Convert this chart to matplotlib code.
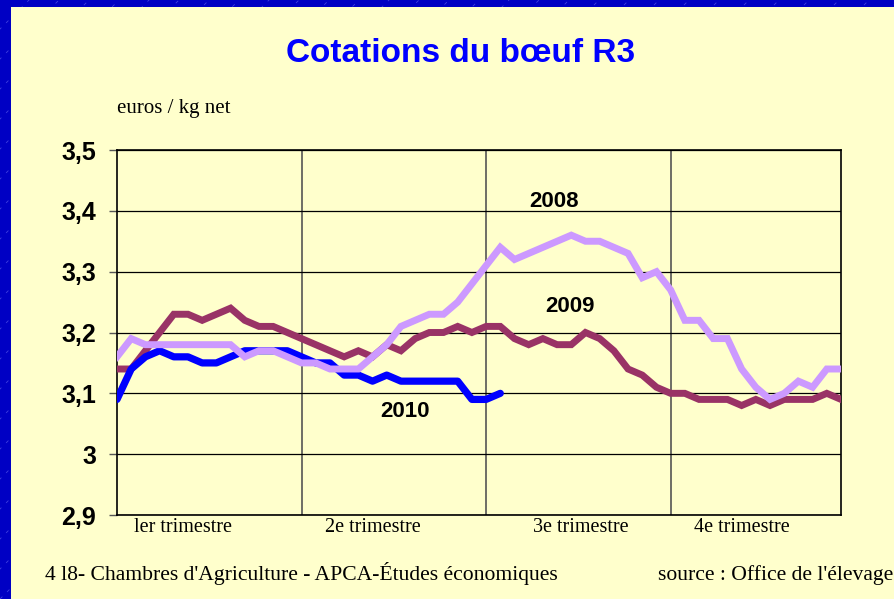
import matplotlib
matplotlib.use("Agg")
import matplotlib.pyplot as plt
from matplotlib.patches import Rectangle
from matplotlib.lines import Line2D
import numpy as np

# ---- data ----
weeks = list(range(1, 53))
y2008 = [3.16, 3.19, 3.18, 3.18, 3.18, 3.18, 3.18, 3.18, 3.18, 3.16,
         3.17, 3.17, 3.16, 3.15, 3.15, 3.14, 3.14, 3.14, 3.16, 3.18,
         3.21, 3.22, 3.23, 3.23, 3.25, 3.28, 3.31, 3.34, 3.32, 3.33,
         3.34, 3.35, 3.36, 3.35, 3.35, 3.34, 3.33, 3.29, 3.30, 3.27,
         3.22, 3.22, 3.19, 3.19, 3.14, 3.11, 3.09, 3.10, 3.12, 3.11,
         3.14, 3.14]
y2009 = [3.14, 3.14, 3.17, 3.20, 3.23, 3.23, 3.22, 3.23, 3.24, 3.22,
         3.21, 3.21, 3.20, 3.19, 3.18, 3.17, 3.16, 3.17, 3.16, 3.18,
         3.17, 3.19, 3.20, 3.20, 3.21, 3.20, 3.21, 3.21, 3.19, 3.18,
         3.19, 3.18, 3.18, 3.20, 3.19, 3.17, 3.14, 3.13, 3.11, 3.10,
         3.10, 3.09, 3.09, 3.09, 3.08, 3.09, 3.08, 3.09, 3.09, 3.09,
         3.10, 3.09]
y2010 = [3.09, 3.14, 3.16, 3.17, 3.16, 3.16, 3.15, 3.15, 3.16, 3.17,
         3.17, 3.17, 3.17, 3.16, 3.15, 3.15, 3.13, 3.13, 3.12, 3.13,
         3.12, 3.12, 3.12, 3.12, 3.12, 3.09, 3.09, 3.10]
yticks = [2.9, 3.0, 3.1, 3.2, 3.3, 3.4, 3.5]
ytick_labels = ["2,9", "3", "3,1", "3,2", "3,3", "3,4", "3,5"]
quarters = ["ler trimestre", "2e trimestre", "3e trimestre", "4e trimestre"]
quarter_label_pos = [4.65, 18.0, 32.7, 44.0]

W, H = 895, 599
fig = plt.figure(figsize=(W / 100, H / 100), dpi=100)
fig.patch.set_facecolor("#0000C4")

# diagonal stripes in border
for k in range(-40, 60):
    x0 = k * 30
    fig.add_artist(Line2D([x0 / W, (x0 + 600) / W], [0, 600 / H],
                          transform=fig.transFigure, color="#4040E0",
                          lw=0.6, ls=(0, (4, 8)), zorder=0))

# yellow panel
fig.add_artist(Rectangle((11 / W, 0), 1 - 11 / W, 1 - 7 / H,
                         transform=fig.transFigure, facecolor="#FFFFCC",
                         edgecolor="none", zorder=1))

narrow = ["Liberation Sans Narrow", "Liberation Sans", "DejaVu Sans"]
serif = ["Liberation Serif", "DejaVu Serif"]

left, right, top, bottom = 117, 841, 150, 515
ax = fig.add_axes([left / W, 1 - bottom / H, (right - left) / W, (bottom - top) / H])
ax.set_zorder(2)
ax.set_facecolor("#FFFFCC")

x = np.arange(len(weeks))
ax.plot(x, y2009, color="#993366", lw=5.0, solid_joinstyle="miter", zorder=3)
ax.plot(x[:len(y2010)], y2010, color="#0000FF", lw=5.2, solid_capstyle="round", zorder=4)
ax.plot(x, y2008, color="#CC99FF", lw=5.0, solid_joinstyle="miter", zorder=5)

ax.set_xlim(0, len(weeks) - 1)
ax.set_ylim(2.9, 3.5)
ax.set_yticks(yticks)
ax.set_yticklabels(ytick_labels, fontfamily="Liberation Sans", fontweight="bold", fontsize=18)
ax.tick_params(axis="y", length=6, width=1, color="#555555", pad=9)
ax.set_xticks([13, 26, 39])
ax.set_xticklabels([])
ax.tick_params(axis="x", length=0)
ax.grid(axis="y", color="black", lw=0.9)
ax.grid(axis="x", color="#555555", lw=1.2)
ax.set_axisbelow(True)
for s in ax.spines.values():
    s.set_color("black")
    s.set_linewidth(1.2)

for pos, lab in zip(quarter_label_pos, quarters):
    ax.text(pos, -0.033, lab, transform=ax.get_xaxis_transform(), ha="center",
            va="center", fontfamily=serif, fontsize=14.5)

# series labels
ax.text(30.8, 3.415, "2008", ha="center", va="center", fontfamily=narrow,
        fontweight="bold", fontsize=16)
ax.text(31.9, 3.243, "2009", ha="center", va="center", fontfamily=narrow,
        fontweight="bold", fontsize=16)
ax.text(20.3, 3.07, "2010", ha="center", va="center", fontfamily=narrow,
        fontweight="bold", fontsize=16)

fig.text(461 / W, 1 - 53 / H, "Cotations du bœuf R3", ha="center", va="center",
         color="#0000FF", fontfamily=narrow, fontweight="bold", fontsize=24, zorder=3)
fig.text(117 / W, 1 - 113 / H, "euros / kg net", ha="left", va="baseline",
         fontfamily=serif, fontsize=15, zorder=3)
fig.text(45 / W, 1 - 580 / H, "4 l8- Chambres d'Agriculture - APCA-Études économiques",
         ha="left", va="baseline", fontfamily=serif, fontsize=15.6, zorder=3)
fig.text(893 / W, 1 - 580 / H, "source : Office de l'élevage", ha="right", va="baseline",
         fontfamily=serif, fontsize=15.6, zorder=3)

fig.savefig("out.png", dpi=100, facecolor=fig.get_facecolor())
